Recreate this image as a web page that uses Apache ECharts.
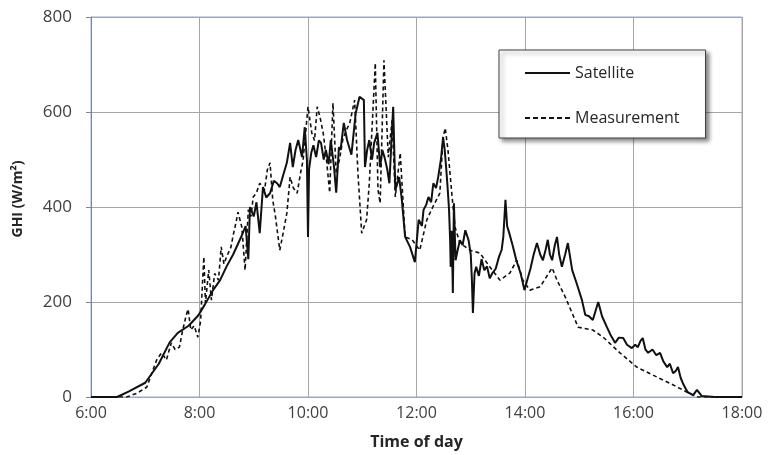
<!DOCTYPE html>
<html><head><meta charset="utf-8">
<script src="https://cdn.jsdelivr.net/npm/echarts@6/dist/echarts.min.js"></script>
<style>html,body{margin:0;padding:0;background:#fff}#c{width:768px;height:455px}</style>
</head><body><div id="c"></div>
<script>
// Time of day in decimal hours
const xTicks = [6, 8, 10, 12, 14, 16, 18];
const yTicks = [0, 200, 400, 600, 800];

const satTime = [6.00,6.48,6.70,7.00,7.25,7.45,7.60,7.80,7.98,8.10,8.25,8.38,8.50,8.62,8.70,8.78,8.85,8.90,8.93,9.00,9.05,9.11,9.17,9.23,9.30,9.37,9.43,9.48,9.55,9.61,9.67,9.72,9.77,9.82,9.89,9.94,9.98,10.00,10.02,10.06,10.10,10.15,10.20,10.24,10.29,10.33,10.38,10.42,10.48,10.52,10.57,10.60,10.66,10.72,10.80,10.88,10.95,11.03,11.05,11.09,11.13,11.18,11.22,11.28,11.33,11.37,11.41,11.46,11.50,11.57,11.61,11.68,11.73,11.79,11.88,11.97,12.04,12.10,12.13,12.18,12.22,12.27,12.31,12.36,12.40,12.45,12.49,12.52,12.55,12.58,12.60,12.62,12.63,12.65,12.67,12.69,12.72,12.76,12.80,12.85,12.90,12.96,13.00,13.02,13.04,13.07,13.10,13.15,13.20,13.25,13.30,13.35,13.40,13.46,13.52,13.57,13.60,13.64,13.67,13.71,13.77,13.84,13.92,13.99,14.04,14.10,14.16,14.22,14.28,14.33,14.38,14.42,14.46,14.50,14.55,14.59,14.63,14.68,14.74,14.79,14.87,14.95,15.05,15.11,15.18,15.25,15.35,15.42,15.51,15.58,15.66,15.73,15.81,15.88,15.97,16.03,16.08,16.13,16.17,16.22,16.27,16.35,16.42,16.49,16.55,16.62,16.67,16.73,16.78,16.82,16.87,16.91,16.96,17.00,17.10,17.17,17.26,17.50,18.00];
const satGHI = [0,0,12,30,70,115,135,150,172,195,225,246,275,300,320,340,360,290,400,380,410,345,442,420,429,455,450,442,470,493,535,484,520,541,505,568,499,337,480,514,530,505,540,535,500,520,490,541,484,430,526,520,577,541,510,598,632,625,484,520,541,500,535,556,484,520,505,480,450,611,436,463,415,337,316,284,373,360,394,405,421,410,450,440,463,500,547,520,478,430,394,330,274,350,219,408,288,310,330,320,351,330,300,250,177,260,274,255,290,267,275,250,261,270,295,310,337,415,360,345,320,288,260,225,246,270,300,324,300,288,310,331,300,288,320,337,300,274,300,324,267,240,204,173,170,162,200,170,147,130,114,125,124,110,103,110,105,118,124,100,93,100,88,93,75,63,70,50,55,63,40,29,18,10,4,15,2,0,0];

const measTime = [6.00,6.66,6.85,7.03,7.12,7.21,7.30,7.39,7.48,7.55,7.63,7.68,7.75,7.79,7.84,7.90,7.97,8.02,8.08,8.11,8.17,8.22,8.28,8.35,8.40,8.45,8.50,8.58,8.62,8.67,8.71,8.78,8.84,8.90,8.95,8.99,9.05,9.11,9.20,9.25,9.30,9.35,9.40,9.48,9.55,9.61,9.67,9.73,9.80,9.86,9.91,10.00,10.07,10.12,10.17,10.22,10.28,10.34,10.40,10.46,10.52,10.58,10.64,10.70,10.77,10.86,10.92,10.99,11.08,11.13,11.17,11.24,11.29,11.33,11.40,11.48,11.55,11.61,11.70,11.79,11.92,12.06,12.19,12.30,12.43,12.49,12.53,12.58,12.65,12.71,12.80,12.99,13.17,13.35,13.54,13.72,13.85,13.96,14.09,14.28,14.50,14.59,14.74,14.98,15.25,15.44,15.75,16.06,16.36,16.67,16.99,17.17,18.00];
const measGHI = [0,0,8,21,50,78,93,78,114,100,105,135,170,185,141,150,126,160,295,198,267,204,260,246,316,280,295,316,340,366,389,358,267,394,380,421,430,450,436,478,493,415,380,309,350,387,463,440,429,470,499,611,556,540,611,590,556,500,430,619,472,500,541,560,577,625,472,345,373,450,541,703,436,408,709,505,583,421,514,337,331,309,373,400,429,547,566,520,429,358,324,309,303,274,246,261,288,246,225,232,272,246,211,147,141,126,93,63,46,29,10,0,0];

const sat = satTime.map((t, i) => [t, satGHI[i]]);
const meas = measTime.map((t, i) => [t, measGHI[i]]);

const SOLID_ICON = 'path://M0,0H45V2H0Z';
const DASH_ICON = 'path://M0,0H5V2H0Z M8,0H13V2H8Z M16,0H21V2H16Z M24,0H29V2H24Z M32,0H37V2H32Z M40,0H45V2H40Z';

const FONT = "'Open Sans', sans-serif";
const chart = echarts.init(document.getElementById('c'), null, {renderer: 'canvas'});
chart.setOption({
  animation: false,
  backgroundColor: '#fff',
  grid: {left: 91, right: 26, top: 17, bottom: 58, show: true, borderColor: '#8EAADB', borderWidth: 1, backgroundColor: 'transparent'},
  legend: {
    left: 499, top: 50, orient: 'vertical',
    itemWidth: 45, itemHeight: 2, itemGap: 29,
    padding: [15, 26, 12, 26],
    backgroundColor: '#fff', borderColor: '#404040', borderWidth: 1,
    shadowColor: 'rgba(0,0,0,0.45)', shadowBlur: 4, shadowOffsetX: 3, shadowOffsetY: 3,
    textStyle: {fontFamily: FONT, fontSize: 16, color: '#262626'},
    itemStyle: {color: '#111', borderWidth: 0},
    data: [{name: 'Satellite', icon: SOLID_ICON}, {name: 'Measurement', icon: DASH_ICON}]
  },
  xAxis: {
    type: 'value', min: xTicks[0], max: xTicks[xTicks.length - 1], interval: 2,
    name: 'Time of day', nameLocation: 'middle', nameGap: 37,
    nameTextStyle: {fontFamily: FONT, fontSize: 16, fontWeight: 'bold', color: '#262626'},
    axisLine: {show: true, lineStyle: {color: '#8EAADB', width: 1}},
    axisTick: {show: false},
    axisLabel: {fontFamily: FONT, fontSize: 16, color: '#404040', margin: 8, formatter: v => v + ':00'},
    splitLine: {show: true, lineStyle: {color: '#A6A6A6', width: 1}}
  },
  yAxis: {
    type: 'value', min: yTicks[0], max: yTicks[yTicks.length - 1], interval: 200,
    name: 'GHI (W/m²)', nameLocation: 'middle', nameGap: 66,
    nameTextStyle: {fontFamily: FONT, fontSize: 14, fontWeight: 'bold', color: '#262626', padding: [0, 0, 0, 16]},
    axisLine: {show: true, lineStyle: {color: '#868686', width: 1}},
    axisTick: {show: true, length: 5, lineStyle: {color: '#868686'}},
    axisLabel: {fontFamily: FONT, fontSize: 17, color: '#404040', margin: 19},
    splitLine: {show: true, lineStyle: {color: '#A6A6A6', width: 1}}
  },
  series: [
    {name: 'Satellite', type: 'line', data: sat, symbol: 'none', z: 3,
     lineStyle: {color: '#111', width: 2, type: 'solid'}, itemStyle: {color: '#111'}},
    {name: 'Measurement', type: 'line', data: meas, symbol: 'none', z: 2,
     lineStyle: {color: '#111', width: 1.6, type: [4, 3]}, itemStyle: {color: '#111'}}
  ]
});
</script></body></html>
